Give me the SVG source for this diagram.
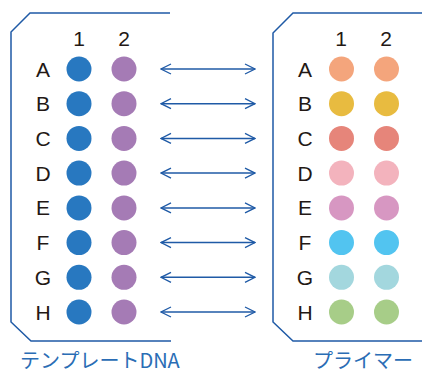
<svg xmlns="http://www.w3.org/2000/svg" width="422" height="374" viewBox="0 0 422 374">
<defs>
<style>
.plate{fill:none;stroke:#1f5aa6;stroke-width:1.5}
.lbl{font-family:"Liberation Sans",Arial,sans-serif;font-size:21px;fill:#231815;text-anchor:middle}
.cap{font-family:"Noto Sans CJK JP","Liberation Sans",sans-serif;font-size:20px;fill:#2a6db5}
.arr{stroke:#1f5aa6;stroke-width:1.5;fill:none}
.c1{fill:#2878c0}.c2{fill:#a57bb5}
</style>
<marker id="ah" viewBox="0 0 12 12" refX="11" refY="6" markerWidth="12" markerHeight="12" markerUnits="userSpaceOnUse" orient="auto-start-reverse">
<path d="M1,1 L11,6 L1,11" fill="none" stroke="#1f5aa6" stroke-width="1.3"/>
</marker>
</defs>
<rect width="422" height="374" fill="#ffffff"/>
<g id="template-plate">
<path class="plate" d="M170,13 L30,13 L11,32 L11,322 L31,341 L171,341"/>
<text class="lbl" x="79" y="46">1</text>
<text class="lbl" x="124" y="46">2</text>
<g id="template-rows">
<text class="lbl" x="43" y="76.5">A</text><circle class="c1" cx="79" cy="69" r="12.5"/><circle class="c2" cx="124" cy="69" r="12.5"/>
<text class="lbl" x="43" y="111.2">B</text><circle class="c1" cx="79" cy="103.7" r="12.5"/><circle class="c2" cx="124" cy="103.7" r="12.5"/>
<text class="lbl" x="43" y="145.9">C</text><circle class="c1" cx="79" cy="138.4" r="12.5"/><circle class="c2" cx="124" cy="138.4" r="12.5"/>
<text class="lbl" x="43" y="180.6">D</text><circle class="c1" cx="79" cy="173.1" r="12.5"/><circle class="c2" cx="124" cy="173.1" r="12.5"/>
<text class="lbl" x="43" y="215.4">E</text><circle class="c1" cx="79" cy="207.9" r="12.5"/><circle class="c2" cx="124" cy="207.9" r="12.5"/>
<text class="lbl" x="43" y="250.1">F</text><circle class="c1" cx="79" cy="242.6" r="12.5"/><circle class="c2" cx="124" cy="242.6" r="12.5"/>
<text class="lbl" x="43" y="284.8">G</text><circle class="c1" cx="79" cy="277.3" r="12.5"/><circle class="c2" cx="124" cy="277.3" r="12.5"/>
<text class="lbl" x="43" y="319.5">H</text><circle class="c1" cx="79" cy="312" r="12.5"/><circle class="c2" cx="124" cy="312" r="12.5"/>
</g>
<text class="cap" x="20" y="368">テンプレートDNA</text>
</g>
<g id="primer-plate">
<path class="plate" d="M422,13 L293,13 L273,33 L273,322 L293,341 L422,341"/>
<text class="lbl" x="341" y="46">1</text>
<text class="lbl" x="386" y="46">2</text>
<text class="lbl" x="305" y="76.5">A</text><circle fill="#f4a57c" cx="341.5" cy="69" r="12.5"/><circle fill="#f4a57c" cx="386.5" cy="69" r="12.5"/>
<text class="lbl" x="305" y="111.2">B</text><circle fill="#e8bb40" cx="341.5" cy="103.7" r="12.5"/><circle fill="#e8bb40" cx="386.5" cy="103.7" r="12.5"/>
<text class="lbl" x="305" y="145.9">C</text><circle fill="#e6857a" cx="341.5" cy="138.4" r="12.5"/><circle fill="#e6857a" cx="386.5" cy="138.4" r="12.5"/>
<text class="lbl" x="305" y="180.6">D</text><circle fill="#f3b3bd" cx="341.5" cy="173.1" r="12.5"/><circle fill="#f3b3bd" cx="386.5" cy="173.1" r="12.5"/>
<text class="lbl" x="305" y="215.4">E</text><circle fill="#d797c2" cx="341.5" cy="207.9" r="12.5"/><circle fill="#d797c2" cx="386.5" cy="207.9" r="12.5"/>
<text class="lbl" x="305" y="250.1">F</text><circle fill="#52c4f0" cx="341.5" cy="242.6" r="12.5"/><circle fill="#52c4f0" cx="386.5" cy="242.6" r="12.5"/>
<text class="lbl" x="305" y="284.8">G</text><circle fill="#a3d7de" cx="341.5" cy="277.3" r="12.5"/><circle fill="#a3d7de" cx="386.5" cy="277.3" r="12.5"/>
<text class="lbl" x="305" y="319.5">H</text><circle fill="#a7cd88" cx="341.5" cy="312" r="12.5"/><circle fill="#a7cd88" cx="386.5" cy="312" r="12.5"/>
<text class="cap" x="313" y="368">プライマー</text>
</g>
<g id="connectors">
<line class="arr" x1="161" y1="69" x2="255" y2="69" marker-start="url(#ah)" marker-end="url(#ah)"/>
<line class="arr" x1="161" y1="103.7" x2="255" y2="103.7" marker-start="url(#ah)" marker-end="url(#ah)"/>
<line class="arr" x1="161" y1="138.4" x2="255" y2="138.4" marker-start="url(#ah)" marker-end="url(#ah)"/>
<line class="arr" x1="161" y1="173.1" x2="255" y2="173.1" marker-start="url(#ah)" marker-end="url(#ah)"/>
<line class="arr" x1="161" y1="207.9" x2="255" y2="207.9" marker-start="url(#ah)" marker-end="url(#ah)"/>
<line class="arr" x1="161" y1="242.6" x2="255" y2="242.6" marker-start="url(#ah)" marker-end="url(#ah)"/>
<line class="arr" x1="161" y1="277.3" x2="255" y2="277.3" marker-start="url(#ah)" marker-end="url(#ah)"/>
<line class="arr" x1="161" y1="312" x2="255" y2="312" marker-start="url(#ah)" marker-end="url(#ah)"/>
</g>
</svg>
